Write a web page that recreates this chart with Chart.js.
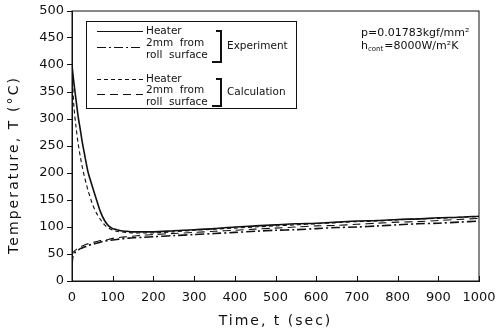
<!DOCTYPE html>
<html><head><meta charset="utf-8">
<script src="https://cdn.jsdelivr.net/npm/chart.js@4.4.1/dist/chart.umd.min.js"></script>
<style>html,body{margin:0;padding:0;background:#fff}#wrap{width:495px;height:334px}</style>
</head><body><div id="wrap"><canvas id="c" width="495" height="334"></canvas></div>
<script>
const times = [0,2,5,10,15,20,25,30,35,40,50,60,70,80,90,100,110,120,135,150,175,200,250,300,350,400,450,500,550,600,650,700,750,800,850,900,950,1000];
const heaterExp = [400,385,365,335,305,282,258,238,218,200,175,151,128,112,102,97,95,93,92,91,91,91,93,95,97,100,102,104,106,107,109,111,112,114,115,117,118,120];
const surfaceExp = [30,45,50,55,57,60,61,63,64,66,68,70,72,74,75,76,77,78,79,80,81,82,84,86,88,90,92,94,95,97,99,100,102,104,106,107,109,111];
const heaterCalc = [395,360,320,285,255,232,212,195,180,166,143,126,114,104,98,94,92,91,90,89,89,89,91,94,96,98,100,102,104,106,108,110,111,113,115,116,118,119];
const surfaceCalc = [48,52,55,58,61,63,65,66,68,69,71,73,75,76,77,79,80,81,82,83,85,86,88,90,92,94,96,98,100,102,103,105,107,109,110,112,114,116];
const xTicks = [0,100,200,300,400,500,600,700,800,900,1000];
const yTicks = [0,50,100,150,200,250,300,350,400,450,500];
const legendNames = ['Heater', '2mm  from', 'roll  surface'];
const groupNames = ['Experiment', 'Calculation'];

const pts = arr => times.map((t,i)=>({x:t,y:arr[i]}));
const INK = '#111';
const styles = {
  heaterExp: {dash: [], w: 1.6},
  surfaceExp: {dash: [9,3,2,3], w: 1.6},
  heaterCalc: {dash: [4,3], w: 1.1},
  surfaceCalc: {dash: [8,5], w: 1.1}
};
function ds(label, arr, st){
  return {label, data: pts(arr), borderColor: INK, borderWidth: st.w, borderDash: st.dash, pointRadius: 0, tension: 0.3, fill: false};
}

const decor = {
  id: 'decor',
  afterDraw(chart){
    const ctx = chart.ctx, a = chart.chartArea, xs = chart.scales.x;
    ctx.save();
    ctx.strokeStyle = INK; ctx.lineWidth = 1; ctx.setLineDash([]);
    ctx.strokeRect(a.left, a.top, a.right - a.left, a.bottom - a.top);
    ctx.beginPath();
    xTicks.forEach(v => { const px = Math.round(xs.getPixelForValue(v)) + 0.5; ctx.moveTo(px, a.bottom); ctx.lineTo(px, a.bottom - 5); });
    ctx.stroke();
    ctx.fillStyle = INK;
    ctx.font = '14px "DejaVu Sans"';
    ctx.letterSpacing = '2px';
    ctx.textAlign = 'center'; ctx.textBaseline = 'middle';
    ctx.fillText('Time, t (sec)', (a.left + a.right) / 2, 321);
    ctx.save();
    ctx.translate(14, 165); ctx.rotate(-Math.PI / 2);
    ctx.letterSpacing = '2.1px';
    ctx.fillText('Temperature, T (°C)', 0, 0);
    ctx.restore();
    ctx.letterSpacing = '0px';
    ctx.strokeRect(86.5, 21.5, 210, 87);
    ctx.font = '10.5px "DejaVu Sans"';
    ctx.textAlign = 'left';
    const rows = [31, 43, 55, 79, 90.5, 102];
    rows.forEach((y, i) => ctx.fillText(legendNames[i % 3], 146, y));
    const sample = (y, st) => { ctx.beginPath(); ctx.lineWidth = 1.1; ctx.setLineDash(st.dash); ctx.moveTo(97, y); ctx.lineTo(143, y); ctx.stroke(); };
    sample(31.5, styles.heaterExp);
    sample(47.5, styles.surfaceExp);
    sample(79.5, styles.heaterCalc);
    sample(94.5, styles.surfaceCalc);
    ctx.setLineDash([]); ctx.lineWidth = 2;
    const bracket = (y1, y2) => { ctx.beginPath(); ctx.moveTo(216, y1); ctx.lineTo(221, y1); ctx.lineTo(221, y2); ctx.lineTo(212, y2); ctx.stroke(); };
    bracket(31, 62);
    bracket(79, 106);
    ctx.fillText(groupNames[0], 227, 46);
    ctx.fillText(groupNames[1], 227, 92);
    ctx.font = '11px "DejaVu Sans"';
    ctx.fillText('p=0.01783kgf/mm²', 361, 33);
    let x = 361;
    ctx.fillText('h', x, 46); x += ctx.measureText('h').width;
    ctx.font = '7px "DejaVu Sans"';
    ctx.fillText('cont', x, 49); x += ctx.measureText('cont').width + 1;
    ctx.font = '11px "DejaVu Sans"';
    ctx.fillText('=8000W/m²K', x, 46);
    ctx.restore();
  }
};

new Chart(document.getElementById('c'), {
  type: 'line',
  data: { datasets: [
    ds('Heater (Experiment)', heaterExp, styles.heaterExp),
    ds('2mm from roll surface (Experiment)', surfaceExp, styles.surfaceExp),
    ds('Heater (Calculation)', heaterCalc, styles.heaterCalc),
    ds('2mm from roll surface (Calculation)', surfaceCalc, styles.surfaceCalc)
  ]},
  options: {
    responsive: false, animation: false,
    layout: { padding: { top: 11, right: 0, left: 0, bottom: 0 } },
    plugins: { legend: { display: false }, tooltip: { enabled: false } },
    scales: {
      x: {
        type: 'linear', min: 0, max: 1000,
        afterBuildTicks: s => { s.ticks = xTicks.map(v => ({value: v})); },
        afterFit: s => { s.height = 53; s.paddingRight = 16; s.paddingLeft = 0; },
        grid: { drawOnChartArea: false, drawTicks: false, color: INK },
        border: { color: INK, width: 1 },
        ticks: { color: INK, font: { family: 'DejaVu Sans', size: 13 }, padding: 9, maxRotation: 0, callback: v => String(v) }
      },
      y: {
        min: 0, max: 500,
        afterBuildTicks: s => { s.ticks = yTicks.map(v => ({value: v})); },
        afterFit: s => { s.width = 72; s.paddingTop = 0; s.paddingBottom = 0; },
        grid: { drawOnChartArea: false, drawTicks: true, tickLength: 5, color: INK },
        border: { color: INK, width: 1 },
        ticks: { color: INK, font: { family: 'DejaVu Sans', size: 13 }, padding: 3, callback: v => String(v) }
      }
    }
  },
  plugins: [decor]
});
</script></body></html>
